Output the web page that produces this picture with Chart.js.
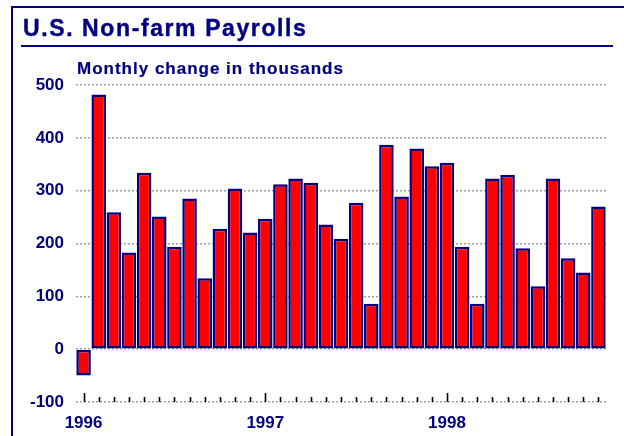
<!DOCTYPE html>
<html>
<head>
<meta charset="utf-8">
<script src="https://cdn.jsdelivr.net/npm/chart.js@4"></script>
<style>
  body { margin: 0; background: #fff; }
  #wrap { position: relative; width: 624px; height: 436px; overflow: hidden; }
  #chart { position: absolute; left: 0; top: 0; }
  #frame { position: absolute; left: 11px; top: 6px; width: 700px; height: 500px;
           border-left: 2px solid #000080; border-top: 2px solid #000080; }
  #title { position: absolute; left: 23px; top: 17px; font: bold 23px "Liberation Sans", Arial, sans-serif;
           line-height: 23px; letter-spacing: 1.6px; color: #000080; white-space: nowrap;
           -webkit-text-stroke: 0.4px #000080; }
  #rule { position: absolute; left: 21px; top: 45px; width: 592px; height: 2px; background: #000080; }
  #subtitle { position: absolute; left: 77px; top: 60px; font: bold 17px "Liberation Sans", Arial, sans-serif;
              line-height: 17px; letter-spacing: 1px; color: #000080; white-space: nowrap;
              -webkit-text-stroke: 0.2px #000080; }
</style>
</head>
<body>
<div id="wrap">
  <canvas id="chart" width="624" height="436"></canvas>
  <div id="frame"></div>
  <div id="title">U.S. Non-farm Payrolls</div>
  <div id="rule"></div>
  <div id="subtitle">Monthly change in thousands</div>
</div>
<script>
/*////////////////////////////// data //////////////////////////////////*/
const months = [
    'Jan 96', 'Feb 96', 'Mar 96', 'Apr 96', 'May 96', 'Jun 96', 'Jul 96', 'Aug 96', 'Sep 96', 'Oct 96', 'Nov 96', 'Dec 96',
    'Jan 97', 'Feb 97', 'Mar 97', 'Apr 97', 'May 97', 'Jun 97', 'Jul 97', 'Aug 97', 'Sep 97', 'Oct 97', 'Nov 97', 'Dec 97',
    'Jan 98', 'Feb 98', 'Mar 98', 'Apr 98', 'May 98', 'Jun 98', 'Jul 98', 'Aug 98', 'Sep 98', 'Oct 98', 'Nov 98'
];
const payrollChange = [
    -50, 482, 259, 183, 334, 251, 194, 285, 134, 228, 304, 221,
    247, 312, 323, 315, 236, 209, 277, 86, 387, 289, 380, 346,
    353, 194, 86, 323, 330, 191, 119, 323, 172, 145, 270
];
const yearLabels = ['1996', '1997', '1998'];
const yMin = -100;
const yMax = 500;
const yStep = 100;

const navy = '#000080';
const labelFont = { family: '"Liberation Sans", Arial, sans-serif', size: 17, weight: 'bold' };

/*////////////////////////////// month tick marks //////////////////////////////////*/
const monthTicks = {
    id: 'monthTicks',
    afterDraw(chart) {
        const ctx = chart.ctx;
        const xScale = chart.scales.x;
        const bottom = chart.chartArea.bottom;
        ctx.save();
        ctx.strokeStyle = '#000';
        ctx.lineWidth = 1.6;
        months.forEach((m, i) => {
            const x = Math.round(xScale.getPixelForValue(i)) + 0.5;
            const h = i % 12 === 0 ? 9 : 5;
            ctx.beginPath();
            ctx.moveTo(x, bottom);
            ctx.lineTo(x, bottom - h);
            ctx.stroke();
        });
        ctx.restore();
    }
};

/*////////////////////////////// chart //////////////////////////////////*/
const ctx = document.getElementById('chart').getContext('2d');
new Chart(ctx, {
    type: 'bar',
    data: {
        labels: months,
        datasets: [{
            data: payrollChange,
            backgroundColor: '#ff0000',
            borderColor: navy,
            borderWidth: 2.5,
            borderSkipped: false,
            barPercentage: 1,
            categoryPercentage: 0.96
        }]
    },
    options: {
        responsive: false,
        animation: false,
        layout: { padding: { left: 0, right: 18, top: 85, bottom: 0 } },
        plugins: {
            legend: { display: false },
            tooltip: { enabled: false }
        },
        scales: {
            x: {
                offset: true,
                grid: { display: false, drawTicks: false },
                border: { display: false },
                ticks: {
                    autoSkip: false,
                    maxRotation: 0,
                    padding: 11,
                    color: navy,
                    font: labelFont,
                    callback: (v, i) => (i % 12 === 0 ? yearLabels[i / 12] : '')
                },
                afterFit: scale => { scale.height = 34; }
            },
            y: {
                min: yMin,
                max: yMax,
                grid: { color: '#a0a0a0', lineWidth: 1.5, drawTicks: false },
                border: { display: false, dash: [2, 2] },
                ticks: {
                    stepSize: yStep,
                    padding: 12,
                    color: navy,
                    font: labelFont
                },
                afterFit: scale => { scale.width = 76; }
            }
        }
    },
    plugins: [monthTicks]
});
</script>
</body>
</html>
